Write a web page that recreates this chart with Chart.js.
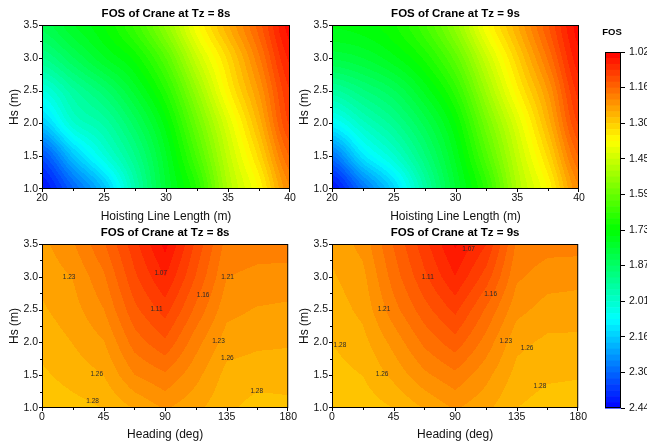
<!DOCTYPE html>
<html>
<head>
<meta charset="utf-8">
<script src="https://cdn.jsdelivr.net/npm/chart.js@4.4.0/dist/chart.umd.min.js"></script>
<style>
  html, body { margin: 0; padding: 0; background: #fff; overflow: hidden; }
  body { width: 647px; height: 443px; position: relative; }
  canvas { position: absolute; }
</style>
</head>
<body>
<canvas id="lenTz8" width="300" height="225" style="left:0;top:0"></canvas>
<canvas id="lenTz9" width="300" height="225" style="left:290px;top:0"></canvas>
<canvas id="headTz8" width="300" height="224" style="left:0;top:219px"></canvas>
<canvas id="headTz9" width="300" height="224" style="left:290px;top:219px"></canvas>
<canvas id="colorbar" width="57" height="443" style="left:590px;top:0"></canvas>
<script>
const FONT = "'Liberation Sans', Arial, sans-serif";

// wave height rows (same for every panel), bottom to top
const hsValues = [1.0, 1.5, 2.0, 2.5, 3.0, 3.5];

// top row: FOS vs hoisting line length
const hoistLength = [20, 22.5, 25, 27.5, 30, 32.5, 35, 37.5, 40];
const fosLengthTz8 = [
    [2.42, 2.30, 2.17, 1.97, 1.80, 1.68, 1.49, 1.37, 1.21],
    [2.33, 2.17, 2.04, 1.92, 1.78, 1.63, 1.46, 1.32, 1.16],
    [2.16, 2.02, 1.96, 1.86, 1.74, 1.58, 1.42, 1.27, 1.11],
    [2.04, 1.95, 1.88, 1.79, 1.68, 1.52, 1.36, 1.23, 1.09],
    [1.92, 1.85, 1.78, 1.72, 1.61, 1.45, 1.32, 1.19, 1.06],
    [1.84, 1.78, 1.73, 1.65, 1.53, 1.38, 1.26, 1.15, 1.03],
];
const fosLengthTz9 = [
    [2.42, 2.28, 2.14, 1.96, 1.80, 1.67, 1.49, 1.37, 1.21],
    [2.28, 2.12, 2.02, 1.90, 1.77, 1.62, 1.46, 1.32, 1.16],
    [2.09, 2.00, 1.93, 1.84, 1.73, 1.57, 1.42, 1.27, 1.11],
    [1.95, 1.90, 1.85, 1.77, 1.67, 1.51, 1.36, 1.23, 1.08],
    [1.82, 1.80, 1.76, 1.70, 1.60, 1.45, 1.31, 1.18, 1.05],
    [1.75, 1.74, 1.71, 1.64, 1.53, 1.38, 1.26, 1.14, 1.03],
];

// bottom row: FOS vs wave heading
const headings = [0, 22.5, 45, 67.5, 90, 112.5, 135, 157.5, 180];
const fosHeadingTz8 = [
    [1.300, 1.290, 1.280, 1.255, 1.230, 1.250, 1.275, 1.290, 1.287],
    [1.285, 1.270, 1.257, 1.210, 1.190, 1.225, 1.265, 1.270, 1.270],
    [1.272, 1.256, 1.235, 1.175, 1.143, 1.200, 1.245, 1.252, 1.254],
    [1.260, 1.243, 1.210, 1.145, 1.104, 1.168, 1.225, 1.235, 1.238],
    [1.250, 1.232, 1.190, 1.120, 1.067, 1.140, 1.209, 1.215, 1.218],
    [1.240, 1.212, 1.165, 1.100, 1.035, 1.120, 1.195, 1.200, 1.198],
];
const fosHeadingTz9 = [
    [1.300, 1.295, 1.280, 1.255, 1.230, 1.250, 1.280, 1.292, 1.295],
    [1.290, 1.280, 1.250, 1.215, 1.192, 1.225, 1.265, 1.276, 1.278],
    [1.280, 1.265, 1.225, 1.180, 1.148, 1.195, 1.250, 1.262, 1.262],
    [1.270, 1.250, 1.195, 1.148, 1.108, 1.165, 1.225, 1.243, 1.245],
    [1.260, 1.240, 1.175, 1.120, 1.068, 1.125, 1.205, 1.222, 1.225],
    [1.250, 1.225, 1.160, 1.100, 1.040, 1.090, 1.190, 1.200, 1.200],
];

// contour labels: [heading, Hs, text]
const labelsTz8 = [
    [86.8, 3.05, '1.07'], [83.7, 2.51, '1.11'], [117.8, 2.72, '1.16'],
    [135.7, 3.0, '1.21'], [19.8, 3.0, '1.23'], [129, 2.02, '1.23'],
    [135.5, 1.76, '1.26'], [40, 1.51, '1.26'], [37, 1.10, '1.28'], [157, 1.26, '1.28'],
];
const labelsTz9 = [
    [99.9, 3.42, '1.07'], [70, 3.0, '1.11'], [116, 2.73, '1.16'],
    [38, 2.51, '1.21'], [5.8, 1.95, '1.28'], [127, 2.02, '1.23'],
    [142.6, 1.91, '1.26'], [36.6, 1.51, '1.26'], [152, 1.33, '1.28'],
];

// colour scale
const fosMin = 1.02;
const fosMax = 2.44;
const levelCount = 60;
const colorbarTicks = ['1.02', '1.16', '1.30', '1.45', '1.59', '1.73', '1.87', '2.01', '2.16', '2.30', '2.44'];

function hueToRgb(h) {
    if (h < 60) return [255, Math.round(h / 60 * 255), 0];
    if (h < 120) return [Math.round((120 - h) / 60 * 255), 255, 0];
    if (h < 180) return [0, 255, Math.round((h - 120) / 60 * 255)];
    return [0, Math.round((240 - h) / 60 * 255), 255];
}

function levelIndex(v) {
    const step = (fosMax - fosMin) / levelCount;
    const k = Math.floor((v - fosMin) / step);
    return Math.max(0, Math.min(levelCount - 1, k));
}

function levelRgb(k) {
    return hueToRgb(240 * (k + 0.5) / levelCount);
}

function findCell(arr, v) {
    let i = 0;
    while (i < arr.length - 2 && v > arr[i + 1]) i++;
    const t = (v - arr[i]) / (arr[i + 1] - arr[i]);
    return [i, Math.max(0, Math.min(1, t))];
}

function catmull(p0, p1, p2, p3, t) {
    return 0.5 * (2 * p1 + (-p0 + p2) * t + (2 * p0 - 5 * p1 + 4 * p2 - p3) * t * t +
        (-p0 + 3 * p1 - 3 * p2 + p3) * t * t * t);
}

function sampleGrid(ds, vx, vy) {
    const [i, tx] = findCell(ds.xGrid, vx);
    const [j, ty] = findCell(ds.yGrid, vy);
    const z = ds.zGrid;
    if (!ds.smooth) {
        const a = z[j][i] + (z[j][i + 1] - z[j][i]) * tx;
        const b = z[j + 1][i] + (z[j + 1][i + 1] - z[j + 1][i]) * tx;
        return a + (b - a) * ty;
    }
    const nx = ds.xGrid.length, ny = ds.yGrid.length;
    const cx = k => Math.max(0, Math.min(nx - 1, k));
    const cy = k => Math.max(0, Math.min(ny - 1, k));
    const rows = [];
    for (let r = -1; r <= 2; r++) {
        const row = z[cy(j + r)];
        rows.push(catmull(row[cx(i - 1)], row[i], row[i + 1], row[cx(i + 2)], tx));
    }
    return catmull(rows[0], rows[1], rows[2], rows[3], ty);
}

// fills the plot area with banded colours, sampled through the chart scales
const contourPlugin = {
    id: 'contourFill',
    beforeDatasetsDraw(chart) {
        const { ctx, chartArea: a, scales: { x, y } } = chart;
        const ds = chart.data.datasets[0];
        const w = Math.round(a.right - a.left), h = Math.round(a.bottom - a.top);
        const off = document.createElement('canvas');
        off.width = w; off.height = h;
        const octx = off.getContext('2d');
        const img = octx.createImageData(w, h);
        const xv = [];
        for (let i = 0; i < w; i++) xv.push(x.getValueForPixel(a.left + i + 0.5));
        for (let j = 0; j < h; j++) {
            const vy = y.getValueForPixel(a.top + j + 0.5);
            for (let i = 0; i < w; i++) {
                const [r, g, b] = levelRgb(levelIndex(sampleGrid(ds, xv[i], vy)));
                const p = (j * w + i) * 4;
                img.data[p] = r; img.data[p + 1] = g; img.data[p + 2] = b; img.data[p + 3] = 255;
            }
        }
        octx.putImageData(img, 0, 0);
        ctx.drawImage(off, a.left, a.top);

        ctx.save();
        ctx.font = '6.5px ' + FONT;
        ctx.fillStyle = '#2a2a2a';
        ctx.textAlign = 'center';
        ctx.textBaseline = 'middle';
        (ds.levelLabels || []).forEach(([lx, ly, txt]) => {
            ctx.fillText(txt, x.getPixelForValue(lx), y.getPixelForValue(ly));
        });
        ctx.restore();
    }
};

function frameTicksPlugin(xMajor, xMinor, yMajor, yMinor) {
    const isMajor = (v, step) => Math.abs(v / step - Math.round(v / step)) < 1e-6;
    return {
        id: 'frameTicks',
        afterDatasetsDraw(chart) {
            const { ctx, chartArea: a, scales: { x, y } } = chart;
            ctx.save();
            ctx.strokeStyle = '#000';
            ctx.lineWidth = 1;
            ctx.beginPath();
            for (let v = x.min; v <= x.max + 1e-9; v += xMinor) {
                const px = Math.round(x.getPixelForValue(v)) + (v === x.max ? -0.5 : 0.5);
                const len = isMajor(v - x.min, xMajor) ? 3 : 2;
                ctx.moveTo(px, a.bottom);
                ctx.lineTo(px, a.bottom + len);
            }
            for (let v = y.min; v <= y.max + 1e-9; v += yMinor) {
                const py = Math.round(y.getPixelForValue(v)) + (v === y.min ? -0.5 : 0.5);
                const len = isMajor(v - y.min, yMajor) ? 3 : 2;
                ctx.moveTo(a.left, py);
                ctx.lineTo(a.left - len, py);
            }
            ctx.stroke();
            ctx.strokeRect(a.left + 0.5, a.top + 0.5, a.right - a.left - 1, a.bottom - a.top - 1);
            ctx.restore();
        }
    };
}

function contourChart(canvasId, opt) {
    const points = [];
    hsValues.forEach((hs, j) => opt.xs.forEach((xv, i) => points.push({ x: xv, y: hs, v: opt.z[j][i] })));
    return new Chart(document.getElementById(canvasId), {
        type: 'scatter',
        data: {
            datasets: [{
                data: points,
                pointRadius: 0,
                xGrid: opt.xs,
                yGrid: hsValues,
                zGrid: opt.z,
                smooth: opt.smooth,
                levelLabels: opt.labels,
            }]
        },
        options: {
            responsive: false,
            animation: false,
            events: [],
            layout: { padding: { top: 0, right: opt.padRight, bottom: 0, left: 0 } },
            plugins: {
                legend: { display: false },
                tooltip: { enabled: false },
                title: {
                    display: true,
                    text: opt.title,
                    fullSize: false,
                    color: '#000',
                    font: { family: FONT, size: 11.5, weight: 'bold', lineHeight: 1 },
                    padding: { top: 8, bottom: 5.5 },
                },
            },
            scales: {
                x: {
                    type: 'linear',
                    min: opt.xs[0],
                    max: opt.xs[opt.xs.length - 1],
                    ticks: {
                        stepSize: opt.xStep,
                        color: '#111',
                        font: { family: FONT, size: 10.5 },
                        padding: 3,
                        maxRotation: 0,
                        autoSkip: false,
                    },
                    grid: { display: false, drawTicks: false },
                    border: { display: false },
                    title: {
                        display: true,
                        text: opt.xTitle,
                        color: '#111',
                        font: { family: FONT, size: 12 },
                        padding: { top: 1, bottom: 1 },
                    },
                    afterFit: s => { s.height = opt.xHeight; },
                },
                y: {
                    type: 'linear',
                    min: 1.0,
                    max: 3.5,
                    ticks: {
                        stepSize: 0.5,
                        color: '#111',
                        font: { family: FONT, size: 10.5 },
                        padding: 4,
                        callback: v => v.toFixed(1),
                    },
                    grid: { display: false, drawTicks: false },
                    border: { display: false },
                    title: {
                        display: true,
                        text: 'Hs (m)',
                        color: '#111',
                        font: { family: FONT, size: 12 },
                        padding: { top: 7, bottom: 0 },
                    },
                    afterFit: s => { s.width = 42; },
                },
            },
        },
        plugins: [contourPlugin, frameTicksPlugin(opt.xStep, opt.xStep / 2, 0.5, 0.25)],
    });
}

contourChart('lenTz8', {
    title: 'FOS of Crane at Tz = 8s', xTitle: 'Hoisting Line Length (m)',
    xs: hoistLength, z: fosLengthTz8, xStep: 5, smooth: true, labels: [],
    padRight: 10, xHeight: 36,
});
contourChart('lenTz9', {
    title: 'FOS of Crane at Tz = 9s', xTitle: 'Hoisting Line Length (m)',
    xs: hoistLength, z: fosLengthTz9, xStep: 5, smooth: true, labels: [],
    padRight: 11, xHeight: 36,
});
contourChart('headTz8', {
    title: 'FOS of Crane at Tz = 8s', xTitle: 'Heading (deg)',
    xs: headings, z: fosHeadingTz8, xStep: 45, smooth: false, labels: labelsTz8,
    padRight: 10, xHeight: 35,
});
contourChart('headTz9', {
    title: 'FOS of Crane at Tz = 9s', xTitle: 'Heading (deg)',
    xs: headings, z: fosHeadingTz9, xStep: 45, smooth: false, labels: labelsTz9,
    padRight: 11, xHeight: 35,
});

// colour bar
const colorbarPlugin = {
    id: 'colorbarFill',
    beforeDatasetsDraw(chart) {
        const { ctx, chartArea: a, scales: { y } } = chart;
        const step = (fosMax - fosMin) / levelCount;
        ctx.save();
        for (let k = 0; k < levelCount; k++) {
            const y1 = y.getPixelForValue(fosMin + k * step);
            const y2 = y.getPixelForValue(fosMin + (k + 1) * step);
            const [r, g, b] = levelRgb(k);
            ctx.fillStyle = `rgb(${r},${g},${b})`;
            ctx.fillRect(a.left, Math.min(y1, y2), a.right - a.left, Math.abs(y2 - y1) + 0.6);
        }
        ctx.strokeStyle = '#000';
        ctx.lineWidth = 1;
        ctx.strokeRect(a.left + 0.5, a.top + 0.5, a.right - a.left - 1, a.bottom - a.top - 1);
        ctx.font = 'bold 9.5px ' + FONT;
        ctx.fillStyle = '#000';
        ctx.textAlign = 'center';
        ctx.textBaseline = 'middle';
        ctx.fillText('FOS', (a.left + a.right) / 2 - 1, a.top - 20);
        ctx.restore();
    }
};

new Chart(document.getElementById('colorbar'), {
    type: 'scatter',
    data: { datasets: [{ data: [] }] },
    options: {
        responsive: false,
        animation: false,
        events: [],
        layout: { padding: { left: 15, top: 52, bottom: 35, right: 0 } },
        plugins: { legend: { display: false }, tooltip: { enabled: false } },
        scales: {
            x: { display: false, min: 0, max: 1 },
            y: {
                position: 'right',
                reverse: true,
                min: fosMin,
                max: fosMax,
                afterBuildTicks: s => {
                    s.ticks = colorbarTicks.map((t, i) => ({
                        value: fosMin + i * (fosMax - fosMin) / (colorbarTicks.length - 1)
                    }));
                },
                ticks: {
                    callback: (v, i) => colorbarTicks[i],
                    color: '#111',
                    font: { family: FONT, size: 10.5 },
                    padding: 4,
                    autoSkip: false,
                },
                grid: { drawOnChartArea: false, drawTicks: true, tickLength: 4, color: '#000' },
                border: { display: false },
                afterFit: s => { s.width = 26; },
            },
        },
    },
    plugins: [colorbarPlugin],
});
</script>
</body>
</html>
